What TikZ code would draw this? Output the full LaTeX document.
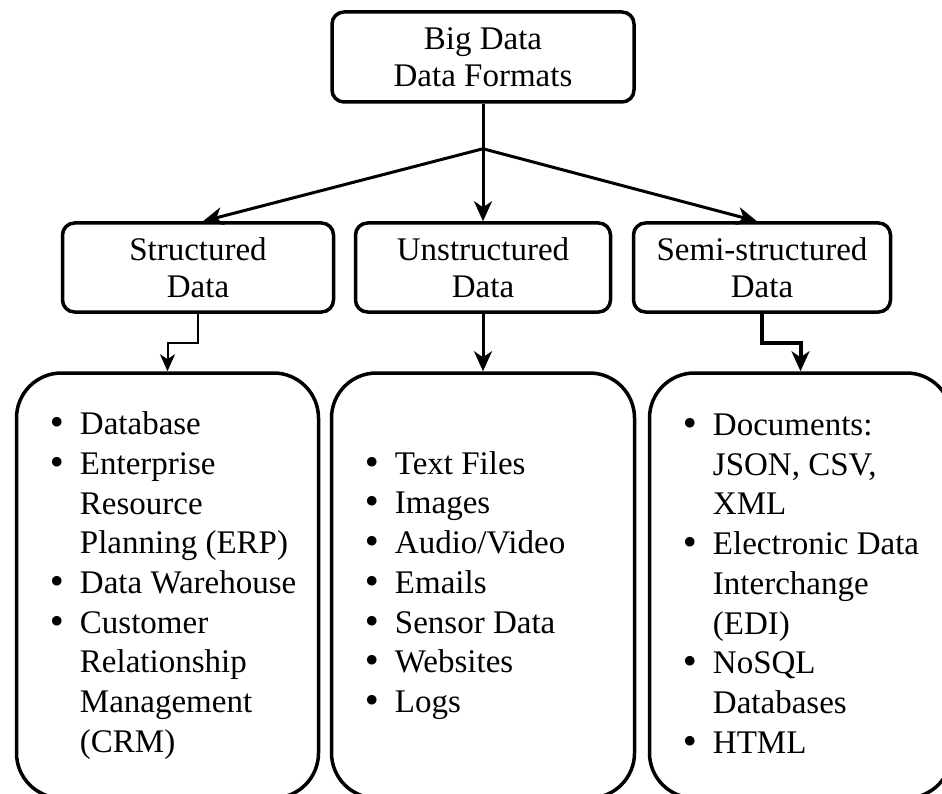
\documentclass[tikz,border=0pt]{standalone}
\usepackage{fontspec}
\setmainfont{Liberation Serif}
\newfontfamily\bulfont{DejaVu Sans}
\usetikzlibrary{positioning,arrows.meta,calc}

\newcommand{\lbul}{\makebox[32pt][l]{\bulfont\char"2022}}
\newcommand{\lind}{\hspace*{32pt}}

\begin{document}
\begin{tikzpicture}[
    x=1pt, y=-1pt, font=\fontsize{33}{37}\selectfont,
    box/.style={draw, line width=3.5pt, rounded corners=12pt, align=center, inner sep=0pt, minimum height=89pt},
    lbox/.style={draw, line width=3.5pt, rounded corners=45pt, inner sep=0pt, minimum width=302pt, minimum height=425pt},
    ltxt/.style={anchor=west, align=left, inner sep=0pt, font=\fontsize{33}{39.7}\selectfont},
    arr/.style={-{Stealth[length=20pt, width=18pt, inset=6pt]}, line width=3pt}]
  \useasboundingbox (0,0) rectangle (942,794);
  \clip (0,0) rectangle (942,794);
  \node[box, minimum width=302pt, minimum height=90pt] (bd) at (483,57) {Big Data\\Data Formats};
  \node[box, minimum width=255pt, below=117.5pt of bd] (un) {Unstructured\\Data};
  \node[box, minimum width=271pt, left=18.5pt of un] (st) {Structured\\Data};
  \node[box, minimum width=257pt, right=19.5pt of un] (ss) {Semi-structured\\Data};
  \node[lbox, minimum width=303pt, below=57.5pt of un] (ubox) {};
  \node[lbox, left=9.5pt of ubox] (sbox) {};
  \node[lbox, right=11.5pt of ubox] (mbox) {};
  \node[ltxt] (stxt) at ([xshift=33pt]sbox.west) {\lbul Database\\
    \lbul Enterprise\\ \lind Resource\\ \lind Planning (ERP)\\
    \lbul Data Warehouse\\
    \lbul Customer\\ \lind Relationship\\ \lind Management\\ \lind (CRM)};
  \node[ltxt] (utxt) at ([xshift=33pt]ubox.west) {\lbul Text Files\\
    \lbul Images\\ \lbul Audio/Video\\ \lbul Emails\\
    \lbul Sensor Data\\ \lbul Websites\\ \lbul Logs};
  \node[ltxt] (mtxt) at ([xshift=33pt, yshift=2pt]mbox.west) {\lbul Documents:\\
    \lind JSON, CSV,\\ \lind XML\\
    \lbul Electronic Data\\ \lind Interchange\\ \lind (EDI)\\
    \lbul NoSQL\\ \lind Databases\\
    \lbul HTML};
  \coordinate (jn) at ($(bd.south)+(0,45)$);
  \draw[line width=3pt] (bd.south) -- (jn);
  \draw[arr] (jn) -- ([xshift=5pt]st.north);
  \draw[arr] (jn) -- (un.north);
  \draw[arr] (jn) -- ([xshift=-5pt]ss.north);
  \draw[arr, line width=2pt, -{Stealth[length=17pt, width=15pt, inset=5pt]}] (st.south) |- ($(st.south)!.5!(sbox.north)$) -| (sbox.north);
  \draw[arr] (un.south) -- (ubox.north);
  \draw[arr, line width=4pt] (ss.south) |- ($(ss.south)!.5!(mbox.north)$) -| (mbox.north);
\end{tikzpicture}
\end{document}
